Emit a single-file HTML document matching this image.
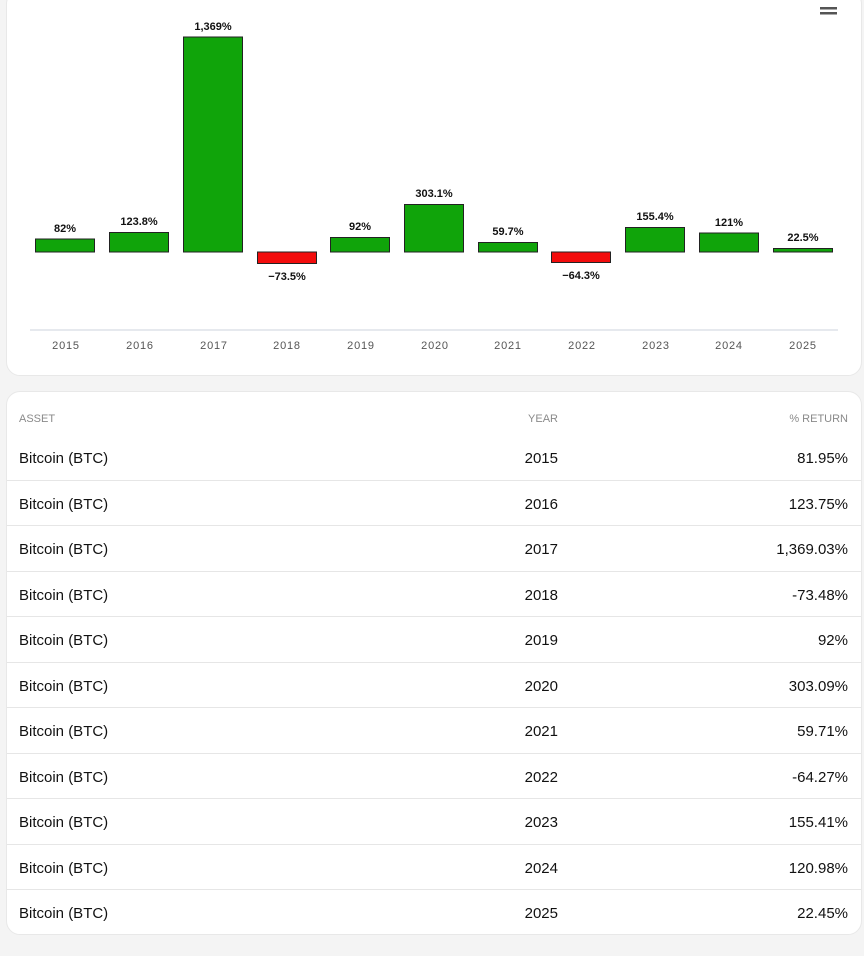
<!DOCTYPE html><html><head><style>
body{margin:0;background:#f4f4f4;width:864px;height:956px;font-family:"Liberation Sans",sans-serif;position:relative;overflow:hidden}
.card{position:absolute;left:6px;width:856px;background:#fff;border-radius:14px;border:1px solid #e8e8e8;box-sizing:border-box}
.row{position:absolute;left:0;width:854px;height:45px;border-top:1px solid #e6e6e6;font-size:15px;color:#111}
.row span{position:absolute;top:15px}
.a{left:12px}.y{right:303px}.r{right:13px}
.h{font-size:11px;color:#8a8a8a;position:absolute;top:21px}
</style></head><body>
<div class="card" style="top:-10px;height:386px"></div>
<svg style="position:absolute;left:0;top:0" width="864" height="380" font-family="Liberation Sans,sans-serif">
<rect x="820" y="7" width="17" height="2.5" fill="#555"/><rect x="820" y="12" width="17" height="2.5" fill="#555"/>
<line x1="30" y1="330" x2="838" y2="330" stroke="#ccd3dc"/>
<g stroke="#222" stroke-width="1">
<rect x="35.5" y="239" width="59" height="13" fill="#10a40a"/>
<rect x="109.5" y="232.5" width="59" height="19.5" fill="#10a40a"/>
<rect x="183.5" y="37" width="59" height="215" fill="#10a40a"/>
<rect x="257.5" y="252" width="59" height="11.5" fill="#f20c0c"/>
<rect x="330.5" y="237.5" width="59" height="14.5" fill="#10a40a"/>
<rect x="404.5" y="204.5" width="59" height="47.5" fill="#10a40a"/>
<rect x="478.5" y="242.5" width="59" height="9.5" fill="#10a40a"/>
<rect x="551.5" y="252" width="59" height="10.5" fill="#f20c0c"/>
<rect x="625.5" y="227.5" width="59" height="24.5" fill="#10a40a"/>
<rect x="699.5" y="233" width="59" height="19" fill="#10a40a"/>
<rect x="773.5" y="248.5" width="59" height="3.5" fill="#10a40a"/>
</g>
<g font-size="11" font-weight="bold" text-anchor="middle" fill="#111">
<text x="65" y="232">82%</text><text x="139" y="225">123.8%</text><text x="213" y="30">1,369%</text>
<text x="287" y="280">−73.5%</text><text x="360" y="230">92%</text><text x="434" y="197">303.1%</text>
<text x="508" y="235">59.7%</text><text x="581" y="279">−64.3%</text><text x="655" y="220">155.4%</text>
<text x="729" y="226">121%</text><text x="803" y="241">22.5%</text></g>
<g font-size="11" text-anchor="middle" fill="#555" letter-spacing="0.8">
<text x="66" y="349">2015</text><text x="140" y="349">2016</text><text x="214" y="349">2017</text><text x="287" y="349">2018</text>
<text x="361" y="349">2019</text><text x="435" y="349">2020</text><text x="508" y="349">2021</text><text x="582" y="349">2022</text>
<text x="656" y="349">2023</text><text x="729" y="349">2024</text><text x="803" y="349">2025</text></g>
</svg>
<div class="card" style="top:391px;height:544px">
<span class="h" style="left:12px">ASSET</span><span class="h" style="right:303px">YEAR</span><span class="h" style="right:13px">% RETURN</span>
<div class="row" style="top:43px;border-top:none"><span class="a">Bitcoin (BTC)</span><span class="y">2015</span><span class="r">81.95%</span></div>
<div class="row" style="top:88px"><span class="a">Bitcoin (BTC)</span><span class="y">2016</span><span class="r">123.75%</span></div>
<div class="row" style="top:133px"><span class="a">Bitcoin (BTC)</span><span class="y">2017</span><span class="r">1,369.03%</span></div>
<div class="row" style="top:179px"><span class="a">Bitcoin (BTC)</span><span class="y">2018</span><span class="r">-73.48%</span></div>
<div class="row" style="top:224px"><span class="a">Bitcoin (BTC)</span><span class="y">2019</span><span class="r">92%</span></div>
<div class="row" style="top:270px"><span class="a">Bitcoin (BTC)</span><span class="y">2020</span><span class="r">303.09%</span></div>
<div class="row" style="top:315px"><span class="a">Bitcoin (BTC)</span><span class="y">2021</span><span class="r">59.71%</span></div>
<div class="row" style="top:361px"><span class="a">Bitcoin (BTC)</span><span class="y">2022</span><span class="r">-64.27%</span></div>
<div class="row" style="top:406px"><span class="a">Bitcoin (BTC)</span><span class="y">2023</span><span class="r">155.41%</span></div>
<div class="row" style="top:452px"><span class="a">Bitcoin (BTC)</span><span class="y">2024</span><span class="r">120.98%</span></div>
<div class="row" style="top:497px"><span class="a">Bitcoin (BTC)</span><span class="y">2025</span><span class="r">22.45%</span></div>
</div>
</body></html>
